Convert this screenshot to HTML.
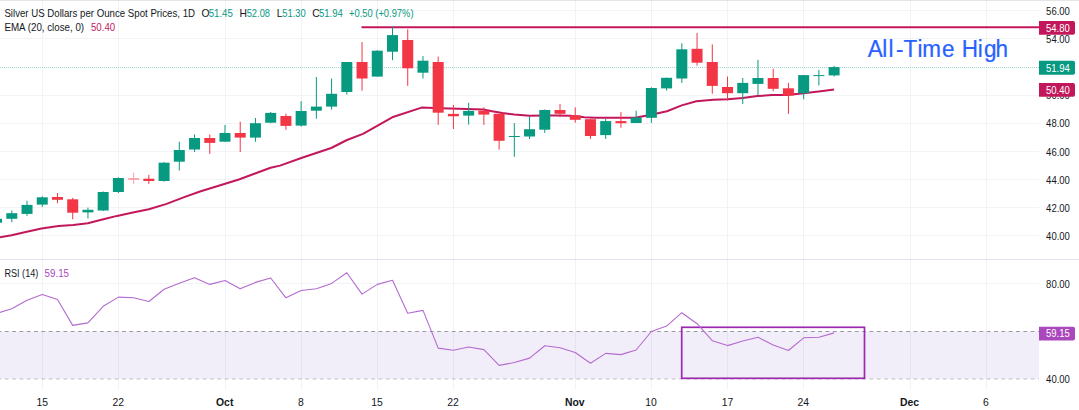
<!DOCTYPE html>
<html><head><meta charset="utf-8"><style>
html,body{margin:0;padding:0;background:#fff;width:1079px;height:410px;overflow:hidden;font-family:"Liberation Sans",sans-serif;}
svg{display:block;}
</style></head><body>
<svg width="1079" height="410" viewBox="0 0 1079 410" font-family="Liberation Sans, sans-serif">
<rect width="1079" height="410" fill="#fff"/>
<line x1="42.5" y1="0" x2="42.5" y2="390" stroke="#F2F3F6" stroke-width="1"/>
<line x1="118.5" y1="0" x2="118.5" y2="390" stroke="#F2F3F6" stroke-width="1"/>
<line x1="225.5" y1="0" x2="225.5" y2="390" stroke="#F2F3F6" stroke-width="1"/>
<line x1="301.5" y1="0" x2="301.5" y2="390" stroke="#F2F3F6" stroke-width="1"/>
<line x1="377.5" y1="0" x2="377.5" y2="390" stroke="#F2F3F6" stroke-width="1"/>
<line x1="453.5" y1="0" x2="453.5" y2="390" stroke="#F2F3F6" stroke-width="1"/>
<line x1="575.5" y1="0" x2="575.5" y2="390" stroke="#F2F3F6" stroke-width="1"/>
<line x1="651.5" y1="0" x2="651.5" y2="390" stroke="#F2F3F6" stroke-width="1"/>
<line x1="727.5" y1="0" x2="727.5" y2="390" stroke="#F2F3F6" stroke-width="1"/>
<line x1="803.5" y1="0" x2="803.5" y2="390" stroke="#F2F3F6" stroke-width="1"/>
<line x1="910.5" y1="0" x2="910.5" y2="390" stroke="#F2F3F6" stroke-width="1"/>
<line x1="986.5" y1="0" x2="986.5" y2="390" stroke="#F2F3F6" stroke-width="1"/>
<line x1="0" y1="10.5" x2="1039" y2="10.5" stroke="#F2F3F6" stroke-width="1"/>
<line x1="0" y1="38.5" x2="1039" y2="38.5" stroke="#F2F3F6" stroke-width="1"/>
<line x1="0" y1="95.5" x2="1039" y2="95.5" stroke="#F2F3F6" stroke-width="1"/>
<line x1="0" y1="123.5" x2="1039" y2="123.5" stroke="#F2F3F6" stroke-width="1"/>
<line x1="0" y1="151.5" x2="1039" y2="151.5" stroke="#F2F3F6" stroke-width="1"/>
<line x1="0" y1="179.5" x2="1039" y2="179.5" stroke="#F2F3F6" stroke-width="1"/>
<line x1="0" y1="207.5" x2="1039" y2="207.5" stroke="#F2F3F6" stroke-width="1"/>
<line x1="0" y1="235.5" x2="1039" y2="235.5" stroke="#F2F3F6" stroke-width="1"/>
<line x1="0" y1="283.5" x2="1039" y2="283.5" stroke="#F2F3F6" stroke-width="1"/>
<line x1="0" y1="0.5" x2="1079" y2="0.5" stroke="#E4E5EA" stroke-width="1"/>
<line x1="0" y1="259.5" x2="1079" y2="259.5" stroke="#E0E3EB" stroke-width="1"/>
<rect x="0" y="331.3" width="1039" height="47.599999999999966" fill="rgba(126,87,194,0.1)"/>
<line x1="0" y1="331.5" x2="1039" y2="331.5" stroke="#787B86" stroke-opacity="0.75" stroke-width="1" stroke-dasharray="3.8 3.528" stroke-dashoffset="2.53"/>
<line x1="0" y1="379" x2="1039" y2="379" stroke="#787B86" stroke-opacity="0.45" stroke-width="1" stroke-dasharray="3.8 3.528" stroke-dashoffset="2.53"/>
<rect x="681.7" y="327.3" width="182.79999999999995" height="51.0" fill="none" stroke="#9C27B0" stroke-width="1.7"/>
<polyline points="-3.4,313.4 11.8,308.8 27.0,300.2 42.3,294.4 57.5,299.5 72.7,325.4 87.9,322.9 103.2,306.3 118.4,297.1 133.6,297.8 148.9,301.5 164.1,289.3 179.3,283.2 194.5,277.8 209.8,284.4 225.0,280.5 240.2,288.8 255.4,282.4 270.7,278.0 285.9,297.8 301.1,290.5 316.4,288.8 331.6,283.4 346.8,272.7 362.0,294.1 377.3,284.4 392.5,280.2 407.7,313.3 423.0,310.4 438.2,348.1 453.4,350.2 468.6,347.0 483.9,349.6 499.1,365.4 514.3,362.5 529.6,358.1 544.8,345.8 560.0,347.8 575.2,352.5 590.5,363.2 605.7,353.4 620.9,354.6 636.1,350.0 651.4,331.5 666.6,326.1 681.8,312.7 697.1,323.7 712.3,340.7 727.5,345.6 742.7,341.0 758.0,337.3 773.2,345.0 788.4,350.5 803.7,337.8 818.9,337.3 834.1,332.9" fill="none" stroke="#B46BD0" stroke-width="1.1" stroke-linejoin="round"/>
<line x1="361.5" y1="27.3" x2="1039" y2="27.3" stroke="#C2185B" stroke-width="2"/>
<line x1="0" y1="67.5" x2="1039" y2="67.5" stroke="#089981" stroke-opacity="0.4" stroke-width="1" stroke-dasharray="1 1"/>
<polyline points="0.0,237.3 11.6,235.3 26.8,231.8 41.5,228.5 58.5,226.1 73.2,224.9 87.8,223.2 102.4,219.5 117.0,215.9 131.7,212.7 148.8,209.3 165.9,204.1 182.9,197.6 200.0,191.5 238.9,179.5 270.6,167.8 280.0,165.6 302.0,157.8 331.2,148.0 347.0,140.0 363.0,133.9 392.2,117.3 421.5,107.6 441.0,108.3 475.0,109.2 483.5,109.5 492.1,111.2 502.3,112.9 514.3,114.6 529.6,115.8 543.3,115.5 557.0,115.5 570.6,115.8 584.3,117.2 594.5,117.7 611.6,117.7 635.0,117.7 651.0,114.8 667.0,111.2 681.7,105.4 696.3,101.2 713.4,99.8 727.6,99.3 742.7,98.0 757.3,96.1 772.0,95.1 786.6,94.9 803.7,93.2 820.7,91.2 834.1,89.5" fill="none" stroke="#C2185B" stroke-width="2" stroke-linejoin="round"/>
<rect x="-3.93" y="217.0" width="1" height="7.00" fill="#089981"/>
<rect x="-8.93" y="218.8" width="11.0" height="3.90" fill="#089981"/>
<rect x="11.30" y="210.5" width="1" height="11.70" fill="#089981"/>
<rect x="6.30" y="213.2" width="11.0" height="5.60" fill="#089981"/>
<rect x="26.53" y="200.7" width="1" height="15.20" fill="#089981"/>
<rect x="21.53" y="204.9" width="11.0" height="9.00" fill="#089981"/>
<rect x="41.76" y="196.3" width="1" height="10.70" fill="#089981"/>
<rect x="36.76" y="197.3" width="11.0" height="7.30" fill="#089981"/>
<rect x="56.98" y="193.0" width="1" height="10.20" fill="#F23645"/>
<rect x="51.98" y="197.0" width="11.0" height="2.80" fill="#F23645"/>
<rect x="72.21" y="197.8" width="1" height="21.50" fill="#F23645"/>
<rect x="67.21" y="199.3" width="11.0" height="13.40" fill="#F23645"/>
<rect x="87.44" y="207.6" width="1" height="10.90" fill="#089981"/>
<rect x="82.44" y="209.8" width="11.0" height="2.60" fill="#089981"/>
<rect x="102.67" y="191.5" width="1" height="19.50" fill="#089981"/>
<rect x="97.67" y="192.0" width="11.0" height="18.50" fill="#089981"/>
<rect x="117.90" y="177.3" width="1" height="15.70" fill="#089981"/>
<rect x="112.90" y="178.0" width="11.0" height="14.00" fill="#089981"/>
<rect x="133.12" y="172.6" width="1" height="11.30" fill="#F7A1A9"/>
<rect x="128.12" y="178.1" width="11.0" height="1.80" fill="#F7A1A9"/>
<rect x="148.35" y="174.8" width="1" height="9.10" fill="#F23645"/>
<rect x="143.35" y="178.7" width="11.0" height="2.30" fill="#F23645"/>
<rect x="163.58" y="162.2" width="1" height="19.40" fill="#089981"/>
<rect x="158.58" y="162.7" width="11.0" height="18.30" fill="#089981"/>
<rect x="178.81" y="141.7" width="1" height="28.80" fill="#089981"/>
<rect x="173.81" y="150.0" width="11.0" height="11.70" fill="#089981"/>
<rect x="194.04" y="134.4" width="1" height="17.60" fill="#089981"/>
<rect x="189.04" y="138.0" width="11.0" height="11.50" fill="#089981"/>
<rect x="209.26" y="134.4" width="1" height="19.50" fill="#F23645"/>
<rect x="204.26" y="138.0" width="11.0" height="4.90" fill="#F23645"/>
<rect x="224.49" y="125.0" width="1" height="16.70" fill="#089981"/>
<rect x="219.49" y="133.0" width="11.0" height="8.70" fill="#089981"/>
<rect x="239.72" y="121.7" width="1" height="30.30" fill="#F23645"/>
<rect x="234.72" y="133.0" width="11.0" height="4.60" fill="#F23645"/>
<rect x="254.95" y="118.0" width="1" height="23.70" fill="#089981"/>
<rect x="249.95" y="123.2" width="11.0" height="14.40" fill="#089981"/>
<rect x="270.18" y="112.0" width="1" height="11.20" fill="#089981"/>
<rect x="265.18" y="112.9" width="11.0" height="9.80" fill="#089981"/>
<rect x="285.40" y="113.7" width="1" height="16.10" fill="#F23645"/>
<rect x="280.40" y="116.0" width="11.0" height="9.90" fill="#F23645"/>
<rect x="300.63" y="101.2" width="1" height="25.40" fill="#089981"/>
<rect x="295.63" y="111.0" width="11.0" height="14.60" fill="#089981"/>
<rect x="315.86" y="77.0" width="1" height="41.80" fill="#089981"/>
<rect x="310.86" y="106.6" width="11.0" height="4.10" fill="#089981"/>
<rect x="331.09" y="78.5" width="1" height="31.10" fill="#089981"/>
<rect x="326.09" y="93.8" width="11.0" height="12.80" fill="#089981"/>
<rect x="346.32" y="62.0" width="1" height="32.60" fill="#089981"/>
<rect x="341.32" y="62.0" width="11.0" height="30.00" fill="#089981"/>
<rect x="361.54" y="42.0" width="1" height="48.70" fill="#F23645"/>
<rect x="356.54" y="62.0" width="11.0" height="16.50" fill="#F23645"/>
<rect x="376.77" y="50.2" width="1" height="26.40" fill="#089981"/>
<rect x="371.77" y="50.7" width="11.0" height="25.90" fill="#089981"/>
<rect x="392.00" y="26.6" width="1" height="33.60" fill="#089981"/>
<rect x="387.00" y="35.1" width="11.0" height="16.60" fill="#089981"/>
<rect x="407.23" y="29.3" width="1" height="56.60" fill="#F23645"/>
<rect x="402.23" y="40.0" width="11.0" height="28.30" fill="#F23645"/>
<rect x="422.46" y="56.1" width="1" height="22.40" fill="#089981"/>
<rect x="417.46" y="60.7" width="11.0" height="12.00" fill="#089981"/>
<rect x="437.68" y="56.6" width="1" height="68.30" fill="#F23645"/>
<rect x="432.68" y="62.0" width="11.0" height="50.70" fill="#F23645"/>
<rect x="452.91" y="105.0" width="1" height="24.00" fill="#F23645"/>
<rect x="447.91" y="113.9" width="11.0" height="2.40" fill="#F23645"/>
<rect x="468.14" y="102.8" width="1" height="21.80" fill="#089981"/>
<rect x="463.14" y="110.9" width="11.0" height="4.70" fill="#089981"/>
<rect x="483.37" y="107.3" width="1" height="17.60" fill="#F23645"/>
<rect x="478.37" y="110.7" width="11.0" height="3.90" fill="#F23645"/>
<rect x="498.60" y="113.8" width="1" height="35.80" fill="#F23645"/>
<rect x="493.60" y="113.8" width="11.0" height="27.00" fill="#F23645"/>
<rect x="513.82" y="123.2" width="1" height="33.60" fill="#089981"/>
<rect x="508.82" y="136.0" width="11.0" height="1.00" fill="#089981"/>
<rect x="529.05" y="116.3" width="1" height="22.80" fill="#089981"/>
<rect x="524.05" y="129.2" width="11.0" height="7.30" fill="#089981"/>
<rect x="544.28" y="109.5" width="1" height="23.40" fill="#089981"/>
<rect x="539.28" y="110.0" width="11.0" height="19.70" fill="#089981"/>
<rect x="559.51" y="103.9" width="1" height="13.30" fill="#F23645"/>
<rect x="554.51" y="110.0" width="11.0" height="3.80" fill="#F23645"/>
<rect x="574.74" y="107.3" width="1" height="15.40" fill="#F23645"/>
<rect x="569.74" y="115.2" width="11.0" height="4.60" fill="#F23645"/>
<rect x="589.96" y="119.2" width="1" height="19.70" fill="#F23645"/>
<rect x="584.96" y="119.2" width="11.0" height="16.80" fill="#F23645"/>
<rect x="605.19" y="118.9" width="1" height="20.00" fill="#089981"/>
<rect x="600.19" y="121.1" width="11.0" height="14.00" fill="#089981"/>
<rect x="620.42" y="112.1" width="1" height="15.70" fill="#F23645"/>
<rect x="615.42" y="121.1" width="11.0" height="2.10" fill="#F23645"/>
<rect x="635.65" y="110.7" width="1" height="12.30" fill="#089981"/>
<rect x="630.65" y="117.5" width="11.0" height="5.50" fill="#089981"/>
<rect x="650.88" y="87.3" width="1" height="35.60" fill="#089981"/>
<rect x="645.88" y="88.0" width="11.0" height="29.80" fill="#089981"/>
<rect x="666.10" y="77.6" width="1" height="13.00" fill="#089981"/>
<rect x="661.10" y="77.8" width="11.0" height="10.60" fill="#089981"/>
<rect x="681.33" y="43.2" width="1" height="39.70" fill="#089981"/>
<rect x="676.33" y="49.3" width="11.0" height="29.20" fill="#089981"/>
<rect x="696.56" y="32.9" width="1" height="32.70" fill="#F23645"/>
<rect x="691.56" y="48.8" width="11.0" height="13.90" fill="#F23645"/>
<rect x="711.79" y="44.4" width="1" height="49.30" fill="#F23645"/>
<rect x="706.79" y="62.0" width="11.0" height="23.90" fill="#F23645"/>
<rect x="727.02" y="76.6" width="1" height="23.90" fill="#F23645"/>
<rect x="722.02" y="87.0" width="11.0" height="6.20" fill="#F23645"/>
<rect x="742.24" y="78.0" width="1" height="26.10" fill="#089981"/>
<rect x="737.24" y="82.9" width="11.0" height="10.30" fill="#089981"/>
<rect x="757.47" y="59.8" width="1" height="35.30" fill="#089981"/>
<rect x="752.47" y="78.0" width="11.0" height="5.90" fill="#089981"/>
<rect x="772.70" y="68.8" width="1" height="22.40" fill="#F23645"/>
<rect x="767.70" y="78.0" width="11.0" height="10.80" fill="#F23645"/>
<rect x="787.93" y="82.9" width="1" height="31.00" fill="#F23645"/>
<rect x="782.93" y="88.3" width="11.0" height="7.30" fill="#F23645"/>
<rect x="803.16" y="75.1" width="1" height="24.20" fill="#089981"/>
<rect x="798.16" y="75.1" width="11.0" height="18.10" fill="#089981"/>
<rect x="818.38" y="70.0" width="1" height="15.40" fill="#089981"/>
<rect x="813.38" y="75.1" width="11.0" height="1.00" fill="#089981"/>
<rect x="833.61" y="65.9" width="1" height="10.70" fill="#089981"/>
<rect x="828.61" y="67.1" width="11.0" height="8.30" fill="#089981"/>
<text transform="scale(0.93,1)" x="933.07 948.58 955.36 963.33 971.61 986.45 991.73 1012.95 1026.88 1034.25 1051.39 1058.02 1070.47" y="57" font-size="24.2" fill="#2962FF" stroke="#2962FF" stroke-width="0.25">All-Time High</text>
<text x="4.4" y="17.4" font-size="10.3" fill="#131722" textLength="190.6" lengthAdjust="spacingAndGlyphs">Silver US Dollars per Ounce Spot Prices, 1D</text>
<text x="201.6" y="17.4" font-size="10.3" fill="#131722">O</text>
<text x="208.7" y="17.4" font-size="10.3" fill="#089981" textLength="24.2" lengthAdjust="spacingAndGlyphs">51.45</text>
<text x="239.4" y="17.4" font-size="10.3" fill="#131722">H</text>
<text x="246.7" y="17.4" font-size="10.3" fill="#089981" textLength="23.3" lengthAdjust="spacingAndGlyphs">52.08</text>
<text x="276.7" y="17.4" font-size="10.3" fill="#131722">L</text>
<text x="282.3" y="17.4" font-size="10.3" fill="#089981" textLength="23.4" lengthAdjust="spacingAndGlyphs">51.30</text>
<text x="312.3" y="17.4" font-size="10.3" fill="#131722">C</text>
<text x="319" y="17.4" font-size="10.3" fill="#089981" textLength="23.8" lengthAdjust="spacingAndGlyphs">51.94</text>
<text x="349" y="17.4" font-size="10.3" fill="#089981" textLength="64.5" lengthAdjust="spacingAndGlyphs">+0.50 (+0.97%)</text>
<text x="4.4" y="31.4" font-size="10.3" fill="#131722" textLength="79.7" lengthAdjust="spacingAndGlyphs">EMA (20, close, 0)</text>
<text x="90.9" y="31.4" font-size="10.3" fill="#C2185B" textLength="24.3" lengthAdjust="spacingAndGlyphs">50.40</text>
<text x="4.4" y="277.4" font-size="10.3" fill="#131722" textLength="33.9" lengthAdjust="spacingAndGlyphs">RSI (14)</text>
<text x="44.6" y="277.4" font-size="10.3" fill="#AB47BC" textLength="24.4" lengthAdjust="spacingAndGlyphs">59.15</text>
<text x="1046.1" y="15.0" font-size="10.4" fill="#131722" textLength="23.8" lengthAdjust="spacingAndGlyphs">56.00</text>
<text x="1046.1" y="43.1" font-size="10.4" fill="#131722" textLength="23.8" lengthAdjust="spacingAndGlyphs">54.00</text>
<text x="1046.1" y="71.2" font-size="10.4" fill="#131722" textLength="23.8" lengthAdjust="spacingAndGlyphs">52.00</text>
<text x="1046.1" y="99.3" font-size="10.4" fill="#131722" textLength="23.8" lengthAdjust="spacingAndGlyphs">50.00</text>
<text x="1046.1" y="127.4" font-size="10.4" fill="#131722" textLength="23.8" lengthAdjust="spacingAndGlyphs">48.00</text>
<text x="1046.1" y="155.5" font-size="10.4" fill="#131722" textLength="23.8" lengthAdjust="spacingAndGlyphs">46.00</text>
<text x="1046.1" y="183.6" font-size="10.4" fill="#131722" textLength="23.8" lengthAdjust="spacingAndGlyphs">44.00</text>
<text x="1046.1" y="211.7" font-size="10.4" fill="#131722" textLength="23.8" lengthAdjust="spacingAndGlyphs">42.00</text>
<text x="1046.1" y="239.9" font-size="10.4" fill="#131722" textLength="23.8" lengthAdjust="spacingAndGlyphs">40.00</text>
<text x="1046.1" y="287.5" font-size="10.4" fill="#131722" textLength="23.8" lengthAdjust="spacingAndGlyphs">80.00</text>
<text x="1046.1" y="383.1" font-size="10.4" fill="#131722" textLength="23.8" lengthAdjust="spacingAndGlyphs">40.00</text>
<path d="M1039 20.9 H1073 Q1075 20.9 1075 22.9 V32.7 Q1075 34.7 1073 34.7 H1039 Z" fill="#C2185B"/>
<text x="1046.0" y="31.5" font-size="10.4" fill="#fff" textLength="23.8" lengthAdjust="spacingAndGlyphs">54.80</text>
<path d="M1039 60.8 H1073 Q1075 60.8 1075 62.8 V72.8 Q1075 74.8 1073 74.8 H1039 Z" fill="#089981"/>
<text x="1046.0" y="71.5" font-size="10.4" fill="#fff" textLength="23.8" lengthAdjust="spacingAndGlyphs">51.94</text>
<path d="M1039 83.0 H1073 Q1075 83.0 1075 85.0 V94.8 Q1075 96.8 1073 96.8 H1039 Z" fill="#C2185B"/>
<text x="1046.0" y="93.6" font-size="10.4" fill="#fff" textLength="23.8" lengthAdjust="spacingAndGlyphs">50.40</text>
<path d="M1039 326.8 H1073 Q1075 326.8 1075 328.8 V338.6 Q1075 340.6 1073 340.6 H1039 Z" fill="#AB47BC"/>
<text x="1046.0" y="337.4" font-size="10.4" fill="#fff" textLength="23.8" lengthAdjust="spacingAndGlyphs">59.15</text>
<text x="42.3" y="405.6" font-size="10.4" fill="#131722" text-anchor="middle">15</text>
<text x="118.3" y="405.6" font-size="10.4" fill="#131722" text-anchor="middle">22</text>
<text x="224.7" y="405.6" font-size="10.4" fill="#131722" text-anchor="middle" font-weight="bold">Oct</text>
<text x="301" y="405.6" font-size="10.4" fill="#131722" text-anchor="middle">8</text>
<text x="377" y="405.6" font-size="10.4" fill="#131722" text-anchor="middle">15</text>
<text x="453" y="405.6" font-size="10.4" fill="#131722" text-anchor="middle">22</text>
<text x="574.8" y="405.6" font-size="10.4" fill="#131722" text-anchor="middle" font-weight="bold">Nov</text>
<text x="651" y="405.6" font-size="10.4" fill="#131722" text-anchor="middle">10</text>
<text x="727.5" y="405.6" font-size="10.4" fill="#131722" text-anchor="middle">17</text>
<text x="803.3" y="405.6" font-size="10.4" fill="#131722" text-anchor="middle">24</text>
<text x="909.5" y="405.6" font-size="10.4" fill="#131722" text-anchor="middle" font-weight="bold">Dec</text>
<text x="985.9" y="405.6" font-size="10.4" fill="#131722" text-anchor="middle">6</text>
</svg>
</body></html>
